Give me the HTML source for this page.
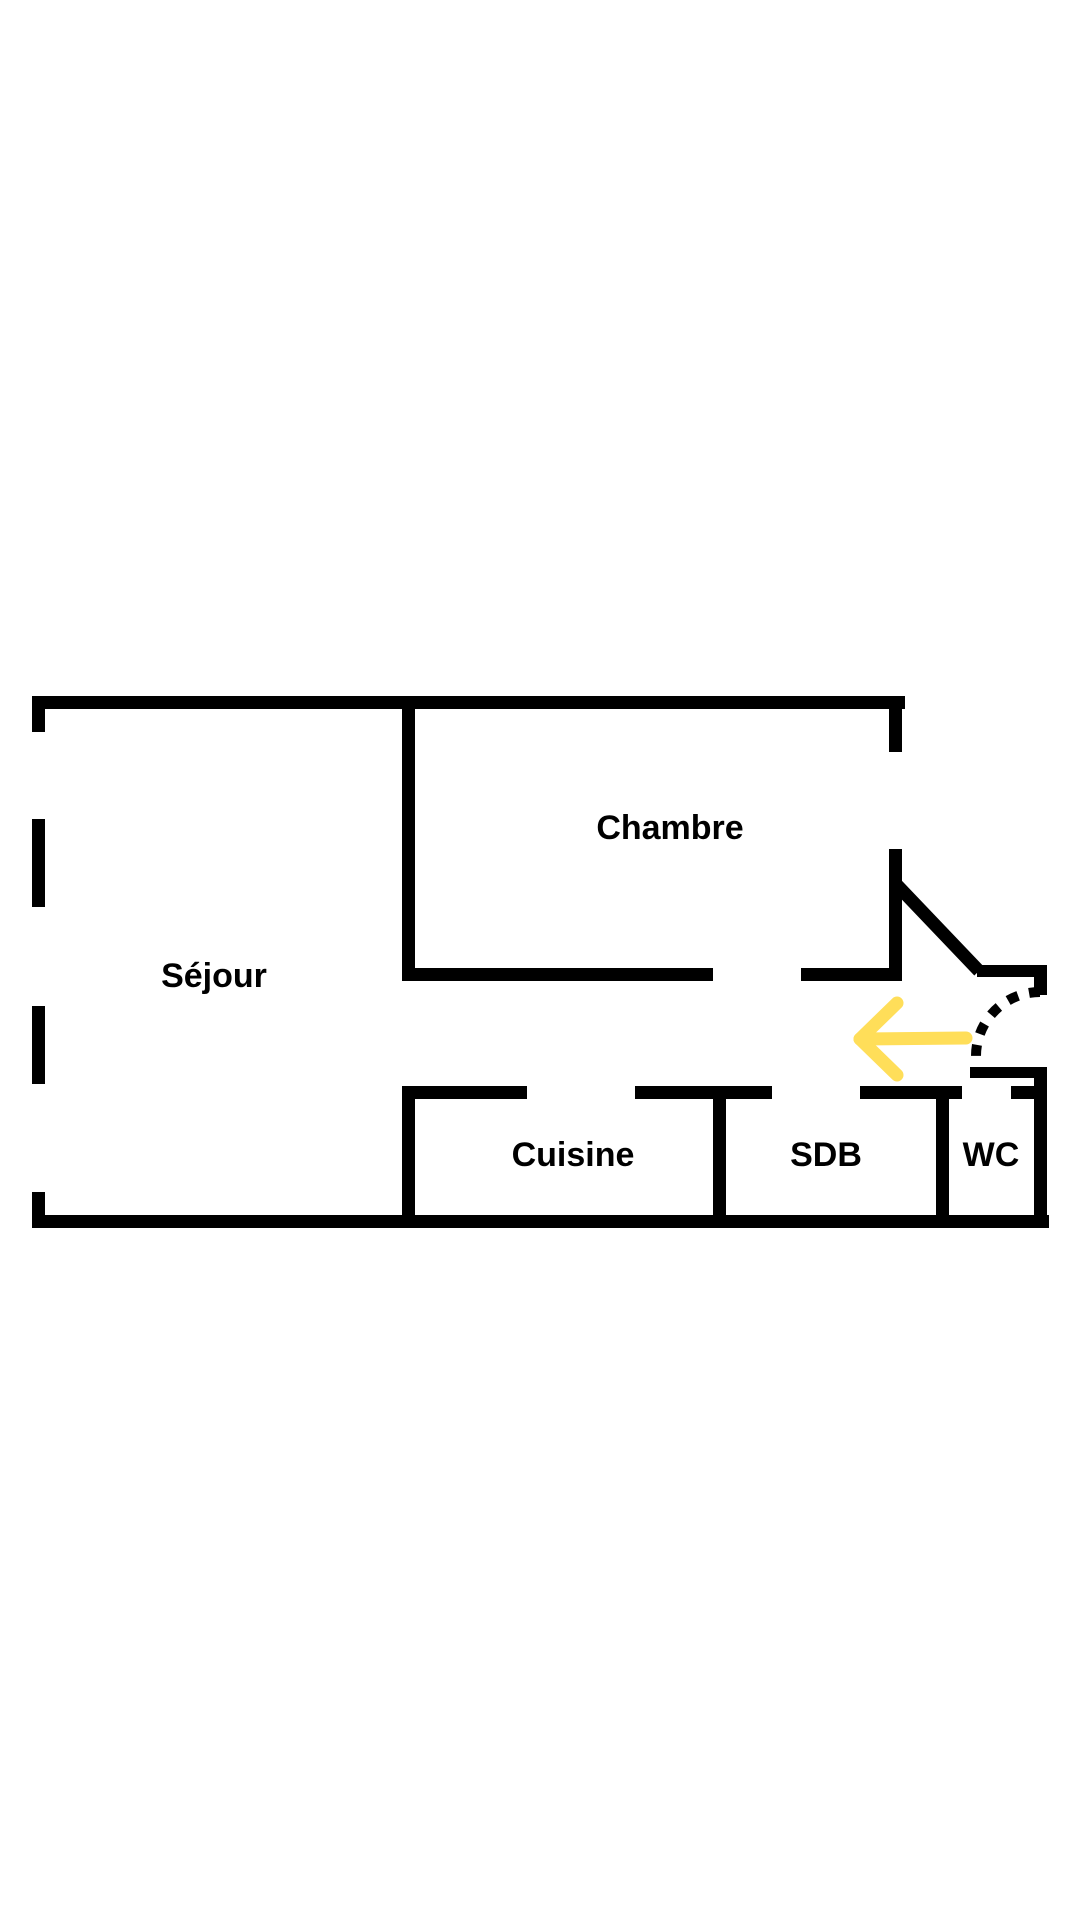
<!DOCTYPE html>
<html><head><meta charset="utf-8"><style>
html,body{margin:0;padding:0;background:#fff;}
svg{display:block;}
text{font-family:"Liberation Sans",sans-serif;font-weight:bold;fill:#000;}
</style></head><body>
<svg width="1080" height="1920" viewBox="0 0 1080 1920" xmlns="http://www.w3.org/2000/svg">
<rect width="1080" height="1920" fill="#fff"/>
<g fill="#000">
<rect x="32" y="696" width="873" height="13"/>
<rect x="32" y="696" width="13" height="36"/>
<rect x="32" y="819" width="13" height="88"/>
<rect x="32" y="1006" width="13" height="78"/>
<rect x="32" y="1192" width="13" height="36"/>
<rect x="32" y="1215" width="1017" height="13"/>
<rect x="889" y="696" width="13" height="56"/>
<rect x="889" y="849" width="13" height="132"/>
<rect x="402" y="696" width="13" height="285"/>
<rect x="402" y="968" width="311" height="13"/>
<rect x="801" y="968" width="101" height="13"/>
<rect x="977" y="965" width="70" height="12"/>
<rect x="1034" y="965" width="13" height="30"/>
<rect x="970" y="1067" width="77" height="11"/>
<rect x="1034" y="1067" width="13" height="161"/>
<rect x="402" y="1086" width="125" height="13"/>
<rect x="635" y="1086" width="137" height="13"/>
<rect x="860" y="1086" width="102" height="13"/>
<rect x="1011" y="1086" width="36" height="13"/>
<rect x="402" y="1086" width="13" height="142"/>
<rect x="713" y="1086" width="13" height="142"/>
<rect x="936" y="1086" width="13" height="142"/>
</g>
<line x1="896" y1="884" x2="979" y2="971" stroke="#000" stroke-width="13"/>
<path d="M1040 992 A64 64 0 0 0 976 1056" pathLength="100" fill="none" stroke="#000" stroke-width="10" stroke-dasharray="11 11.25"/>
<g stroke="#FFDE59" stroke-width="13" stroke-linecap="round" stroke-linejoin="round" fill="none">
<line x1="966" y1="1038" x2="860" y2="1039"/>
<polyline points="897,1003 860,1039 897,1075"/>
</g>
<text x="670" y="839" font-size="34" text-anchor="middle">Chambre</text>
<text x="214" y="987" font-size="34" text-anchor="middle">Séjour</text>
<text x="573" y="1166" font-size="34" text-anchor="middle">Cuisine</text>
<text x="826" y="1166" font-size="34" text-anchor="middle">SDB</text>
<text x="991" y="1166" font-size="34" text-anchor="middle">WC</text>
</svg>
</body></html>
